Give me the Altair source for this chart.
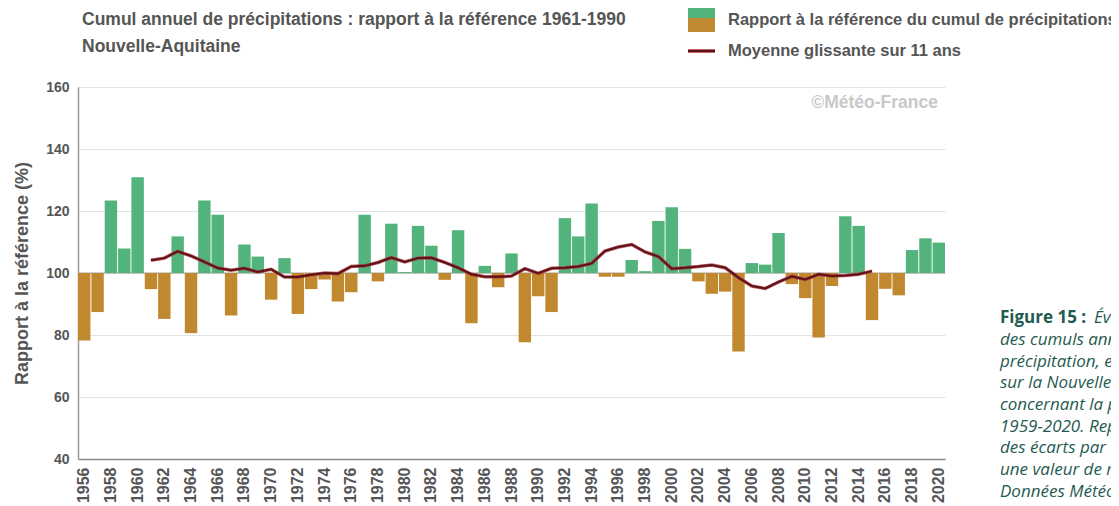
import altair as alt
import pandas as pd

# ---------------- data ----------------
years = list(range(1956, 2021))
ratio = [
    78.2, 87.4, 123.4, 107.9, 130.9, 94.8, 85.2, 111.8, 80.6, 123.4,   # 1956-1965
    118.8, 86.3, 109.2, 105.3, 91.4, 104.8, 86.8, 94.8, 97.9, 90.8,    # 1966-1975
    93.8, 118.8, 97.3, 115.9, 100.3, 115.2, 108.8, 97.8, 113.8, 83.8,  # 1976-1985
    102.3, 95.4, 106.3, 77.7, 92.5, 87.4, 117.7, 111.8, 122.4, 98.8,   # 1986-1995
    98.8, 104.2, 100.6, 116.8, 121.2, 107.8, 97.3, 93.3, 94.0, 74.7,   # 1996-2005
    103.2, 102.7, 112.9, 96.4, 91.9, 79.2, 95.8, 118.3, 115.2, 84.8,   # 2006-2015
    94.9, 92.8, 107.4, 111.2, 109.8,                                   # 2016-2020
]
ma_years = list(range(1961, 2016))
ma_values = [
    104.1, 104.8, 107.0, 105.5, 103.6, 101.6, 100.9, 101.5, 100.3, 101.2,  # 1961-1970
    98.7, 98.7, 99.4, 100.0, 99.8, 102.1, 102.3, 103.4, 105.0, 103.6,      # 1971-1980
    104.8, 104.9, 103.4, 101.7, 99.6, 98.8, 98.8, 99.0, 101.4, 99.9,       # 1981-1990
    101.5, 101.7, 102.1, 103.1, 107.1, 108.4, 109.2, 106.8, 105.3, 101.4,  # 1991-2000
    101.7, 102.1, 102.6, 101.7, 98.5, 95.8, 95.0, 97.1, 98.9, 97.9,        # 2001-2010
    99.6, 99.0, 99.2, 99.6, 100.6,                                         # 2011-2015
]
tick_years = [1956, 1958, 1960, 1962, 1964, 1966, 1968, 1970, 1972, 1974,
              1976, 1978, 1980, 1982, 1984, 1986, 1988, 1990, 1992, 1994,
              1996, 1998, 2000, 2002, 2004, 2006, 2008, 2010, 2012, 2014,
              2016, 2018, 2020]
y_ticks = [40, 60, 80, 100, 120, 140, 160]

title_lines = ["Cumul annuel de précipitations : rapport à la référence 1961-1990",
               "Nouvelle-Aquitaine"]
legend_labels = ["Rapport à la référence du cumul de précipitations",
                 "Moyenne glissante sur 11 ans"]
sign_labels = ["au-dessus", "en dessous"]
copyright_text = "©Météo-France"
y_title = "Rapport à la référence (%)"
caption_head = "Figure 15 :"
caption_lines = ["Évolution", "des cumuls annuels de", "précipitation, en %,",
                 "sur la Nouvelle-Aquitaine", "concernant la période",
                 "1959-2020. Représentation", "des écarts par rapport à",
                 "une valeur de référence.", "Données Météo-France"]

# ---------------- styles ----------------
GREEN = "#52b47c"
BROWN = "#c0882f"
LINE_HALO = "#a8343a"
LINE = "#5e1218"
GREY = "#555555"
TEAL = "#1f5b51"
FONT = "Liberation Sans"
CAP_FONT = "Open Sans"

bars_df = pd.DataFrame({
    "year": years,
    "ratio": ratio,
    "sign": [sign_labels[0] if v >= 100 else sign_labels[1] for v in ratio],
})
ma_df = pd.DataFrame({"year": ma_years, "ma": ma_values})

x_scale = alt.Scale(domain=years, paddingInner=0.07, paddingOuter=0)
y_scale = alt.Scale(domain=[40, 160], nice=False, zero=False)

x_axis = alt.Axis(values=tick_years, labelAngle=270, labelAlign="right",
                  labelBaseline="middle", labelFont=FONT, labelFontSize=16,
                  labelFontWeight="bold", labelColor=GREY, ticks=False,
                  labelPadding=8, domainColor="#8a8a8a", domainWidth=1.5,
                  grid=False, title=None)
y_axis = alt.Axis(values=y_ticks, grid=True, gridColor="#e2e2e2", domainColor="#9a9a9a",
                  domainWidth=1.5, ticks=False, labelPadding=9, labelFont=FONT,
                  labelFontSize=14, labelFontWeight="bold", labelColor=GREY,
                  title=y_title, titleFont=FONT, titleFontSize=18,
                  titleFontWeight="bold", titleColor=GREY, titlePadding=14)

X = alt.X("year:O", scale=x_scale, axis=x_axis)

baseline = alt.Chart(pd.DataFrame({"v": [100]})).mark_rule(
    color="#a0a0a0", strokeWidth=1).encode(
    y=alt.Y("v:Q", scale=y_scale, axis=y_axis))

bars = alt.Chart(bars_df).mark_bar().encode(
    x=X,
    y=alt.Y("ratio:Q", scale=y_scale, axis=y_axis),
    y2=alt.datum(100),
    color=alt.Color("sign:N", scale=alt.Scale(domain=sign_labels, range=[GREEN, BROWN]),
                    legend=None),
)

line_halo = alt.Chart(ma_df).mark_line(color=LINE_HALO, strokeWidth=3.5, opacity=0.8).encode(
    x=X,
    y=alt.Y("ma:Q", scale=y_scale, axis=y_axis),
)
line = alt.Chart(ma_df).mark_line(color=LINE, strokeWidth=2).encode(
    x=X,
    y=alt.Y("ma:Q", scale=y_scale, axis=y_axis),
)


def label(text, x, y, size=15, weight="bold", color=GREY, align="left",
          style="normal", font=FONT):
    return alt.Chart(pd.DataFrame({"t": [text]})).mark_text(
        align=align, baseline="middle", font=font, fontSize=size,
        fontWeight=weight, fontStyle=style, color=color,
    ).encode(x=alt.value(x), y=alt.value(y), text="t:N")


texts = [
    label(title_lines[0], 4, -67, size=17.5),
    label(title_lines[1], 4, -40, size=17.5),
    label(legend_labels[0], 650, -67, size=16.5),
    label(legend_labels[1], 650, -36, size=16.5),
    label(copyright_text, 860, 16, size=17.5, color="#c8c8c8", align="right"),
    label(caption_head, 922, 231, size=17, color=TEAL, font=CAP_FONT),
    label(caption_lines[0], 1016, 231, size=17, weight="normal", color=TEAL,
          style="italic", font=CAP_FONT),
]
cap_y = [253, 275, 296, 318, 340, 361, 383, 405]
for txt, yy in zip(caption_lines[1:], cap_y):
    texts.append(label(txt, 922, yy, size=17, weight="normal", color=TEAL,
                       style="italic", font=CAP_FONT))

one = pd.DataFrame({"a": [0]})
legend_marks = [
    alt.Chart(one).mark_rect(color=GREEN).encode(
        x=alt.value(610), x2=alt.value(637), y=alt.value(-82), y2=alt.value(-69)),
    alt.Chart(one).mark_rect(color=BROWN).encode(
        x=alt.value(610), x2=alt.value(637), y=alt.value(-69), y2=alt.value(-55)),
    alt.Chart(one).mark_rule(color=LINE_HALO, strokeWidth=3.5).encode(
        x=alt.value(610), x2=alt.value(637), y=alt.value(-36)),
    alt.Chart(one).mark_rule(color=LINE, strokeWidth=2).encode(
        x=alt.value(610), x2=alt.value(637), y=alt.value(-36)),
]

chart = alt.layer(baseline, bars, line_halo, line, *texts, *legend_marks).properties(
    width=867,
    height=372,
    autosize=alt.AutoSizeParams(type="none"),
    padding={"left": 70, "top": 79, "right": 166, "bottom": 47},
).configure_view(strokeWidth=0)

chart.save("out.html", embed_options={"renderer": "svg", "actions": False})
